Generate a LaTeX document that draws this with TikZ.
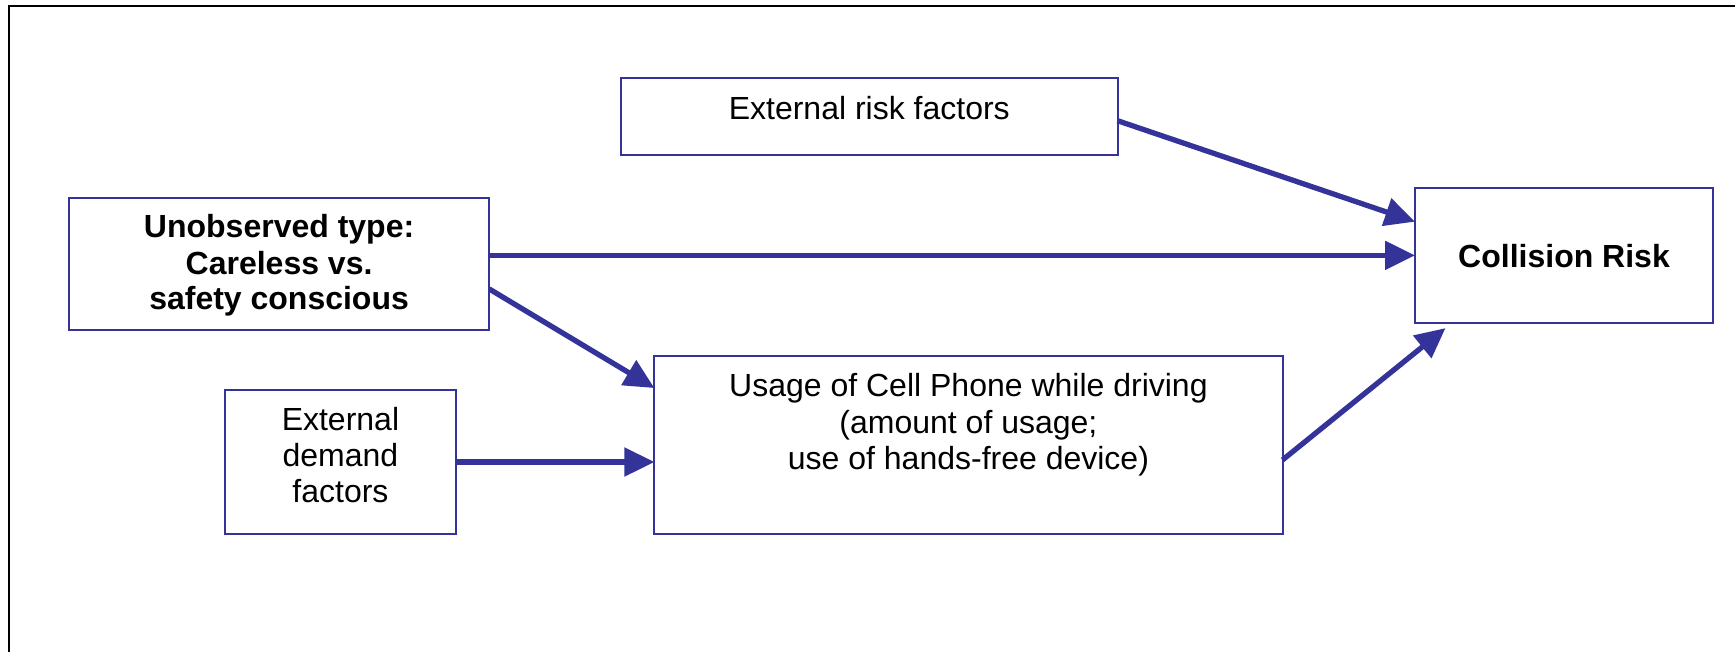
\documentclass[tikz,border=0pt]{standalone}
\usepackage{fontspec}
\setmainfont{Liberation Sans}
\usetikzlibrary{arrows.meta,calc}
\definecolor{ppblue}{RGB}{51,51,153}
\begin{document}
\begin{tikzpicture}[x=1pt,y=-1pt,
  box/.style={draw=ppblue, line width=2pt, rectangle, outer sep=0pt, inner sep=0pt},
  lbl/.style={anchor=base, inner sep=0pt, font=\fontsize{32}{36}\selectfont},
  blbl/.style={anchor=base, inner sep=0pt, font=\fontsize{32}{36}\selectfont\bfseries},
  arr/.style={draw=ppblue, line width=5.3pt, -{Triangle[length=30pt,width=28pt]}}]
\useasboundingbox (0,0) rectangle (1735,651);
\draw[line width=2pt] (9,660) -- (9,5.7) -- (1740,5.7);

\node[box, minimum width=496.5pt, minimum height=77.3pt] (risk) at (869.25,116.35) {};
\node[box, minimum width=420.2pt, minimum height=132pt] (unobs) at (279.1,264) {};
\node[box, minimum width=231.7pt, minimum height=144pt] (demand) at (340.45,462) {};
\node[box, minimum width=628.1pt, minimum height=178pt] (usage) at (968.45,445) {};
\node[box, minimum width=298pt, minimum height=134.8pt] (coll) at (1564,255.4) {};

\node[lbl] (risk-t) at (869.25,119.3) {External risk factors};
\node[blbl] (unobs-t1) at (279.1,237.5) {Unobserved type:};
\node[blbl] (unobs-t2) at (279.1,274) {Careless vs.};
\node[blbl] (unobs-t3) at (279.1,309.4) {safety conscious};
\node[lbl] (demand-t1) at (340.45,430.7) {External};
\node[lbl] (demand-t2) at (340.45,466.8) {demand};
\node[lbl] (demand-t3) at (340.45,502.5) {factors};
\node[lbl] (usage-t1) at (968.45,396.6) {Usage of Cell Phone while driving};
\node[lbl] (usage-t2) at (968.45,433) {(amount of usage;};
\node[lbl] (usage-t3) at (968.45,469.3) {use of hands-free device)};
\node[blbl] (coll-t) at (1564,267.3) {Collision Risk};

\draw[arr] ($(risk.north east)!0.556!(risk.south east)$) -- ($(coll.north west)!0.25!(coll.south west)$);
\draw[arr] (unobs.east |- coll.west) -- (coll.west);
\draw[arr] ($(unobs.north east)!0.689!(unobs.south east)$) -- ($(usage.north west)!0.18!(usage.south west)$);
\draw[arr] (demand.east) -- (demand.east -| usage.west);
\draw[arr] ($(usage.north east)!0.584!(usage.south east)$) -- ($(coll.south west)+(30.5,5.3)$);
\end{tikzpicture}
\end{document}
